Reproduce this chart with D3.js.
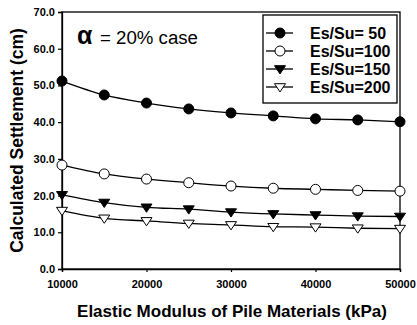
<!DOCTYPE html>
<html>
<head>
<meta charset="utf-8">
<script src="https://cdn.jsdelivr.net/npm/d3@7"></script>
<style>
  body { margin: 0; background: #fff; }
  text { font-family: Arial, "Liberation Sans", sans-serif; }
</style>
</head>
<body>
<script>
// Data
const modulus = [10000, 15000, 20000, 25000, 30000, 35000, 40000, 45000, 50000];
const es50  = [51.2, 47.4, 45.2, 43.6, 42.5, 41.7, 40.9, 40.6, 40.1];
const es100 = [28.3, 25.9, 24.5, 23.5, 22.6, 22.0, 21.7, 21.4, 21.2];
const es150 = [20.2, 18.1, 16.8, 16.3, 15.5, 15.0, 14.7, 14.4, 14.3];
const es200 = [15.9, 13.8, 13.1, 12.4, 12.0, 11.5, 11.4, 11.1, 11.0];
const seriesNames = ['Es/Su= 50', 'Es/Su=100', 'Es/Su=150', 'Es/Su=200'];
const xTicks = [10000, 20000, 30000, 40000, 50000];
const yTicks = [0, 10, 20, 30, 40, 50, 60, 70];

const series = [
  { name: seriesNames[0], values: es50, shape: 'circle', fill: '#000' },
  { name: seriesNames[1], values: es100, shape: 'circle', fill: '#fff' },
  { name: seriesNames[2], values: es150, shape: 'tri', fill: '#000' },
  { name: seriesNames[3], values: es200, shape: 'tri', fill: '#fff' }
];

const width = 417, height = 325;
const margin = { left: 62, right: 17, top: 12, bottom: 56 };

const svg = d3.select('body').append('svg')
  .attr('width', width)
  .attr('height', height);

const x = d3.scaleLinear().domain([10000, 50000]).range([margin.left, width - margin.right]);
const y = d3.scaleLinear().domain([0, 70]).range([height - margin.bottom, margin.top]);

// frame
svg.append('rect')
  .attr('x', x(10000)).attr('y', y(70))
  .attr('width', x(50000) - x(10000)).attr('height', y(0) - y(70))
  .attr('fill', 'none').attr('stroke', '#000').attr('stroke-width', 1.3);

// axes
const yAxis = svg.append('g')
  .attr('transform', `translate(${x(10000)},0)`)
  .call(d3.axisLeft(y).tickValues(yTicks).tickFormat(d3.format('.1f')).tickSize(4).tickPadding(3));
const xAxis = svg.append('g')
  .attr('transform', `translate(0,${y(0)})`)
  .call(d3.axisBottom(x).tickValues(xTicks).tickFormat(d3.format('d')).tickSize(3).tickPadding(8));

[xAxis, yAxis].forEach(a => {
  a.select('.domain').attr('stroke-width', 1.3);
  a.selectAll('.tick line').attr('stroke-width', 1.2);
  a.selectAll('text')
    .style('font-family', 'Arial, "Liberation Sans", sans-serif')
    .style('font-size', '11px')
    .style('font-weight', 'bold')
    .attr('fill', '#000');
});

// axis titles
svg.append('text')
  .attr('x', 232)
  .attr('y', 317)
  .attr('text-anchor', 'middle')
  .style('font-size', '17px').style('font-weight', 'bold')
  .text('Elastic Modulus of Pile Materials (kPa)');

svg.append('text')
  .attr('transform', `translate(23,${(y(0) + y(70)) / 2}) rotate(-90)`)
  .attr('text-anchor', 'middle')
  .style('font-size', '17.5px').style('font-weight', 'bold')
  .text('Calculated Settlement (cm)');

// annotation
svg.append('text').attr('x', 77).attr('y', 44)
  .style('font-size', '25px').style('font-weight', 'bold').text('α');
svg.append('text').attr('x', 100).attr('y', 44)
  .attr('textLength', 98).attr('lengthAdjust', 'spacingAndGlyphs')
  .style('font-size', '18px').text('= 20% case');

const line = d3.line()
  .curve(d3.curveMonotoneX)
  .x((d, i) => x(modulus[i]))
  .y(d => y(d));

function drawMarker(g, s, cx, cy) {
  if (s.shape === 'circle') {
    g.append('circle').attr('cx', cx).attr('cy', cy).attr('r', 5)
      .attr('fill', s.fill).attr('stroke', '#000').attr('stroke-width', 1);
  } else {
    const r = 5.5;
    g.append('path')
      .attr('d', `M${cx - r},${cy - r * 0.6}L${cx + r},${cy - r * 0.6}L${cx},${cy + r * 0.9}Z`)
      .attr('fill', s.fill).attr('stroke', '#000').attr('stroke-width', 1);
  }
}

series.forEach(s => {
  svg.append('path')
    .datum(s.values)
    .attr('d', line)
    .attr('fill', 'none')
    .attr('stroke', '#000')
    .attr('stroke-width', 1.3);
  const g = svg.append('g');
  s.values.forEach((v, i) => drawMarker(g, s, x(modulus[i]), y(v)));
});

// legend
const lg = svg.append('g');
lg.append('rect')
  .attr('x', 263).attr('y', 15).attr('width', 134).attr('height', 88)
  .attr('fill', '#fff').attr('stroke', '#000').attr('stroke-width', 1.3);
series.forEach((s, i) => {
  const ly = 33 + i * 18;
  lg.append('line').attr('x1', 266).attr('x2', 293).attr('y1', ly).attr('y2', ly)
    .attr('stroke', '#000').attr('stroke-width', 1.3);
  drawMarker(lg, s, 280, ly);
  lg.append('text')
    .attr('x', 310).attr('y', ly + 6)
    .style('font-size', '16px').style('font-weight', 'bold')
    .text(s.name);
});
</script>
</body>
</html>
